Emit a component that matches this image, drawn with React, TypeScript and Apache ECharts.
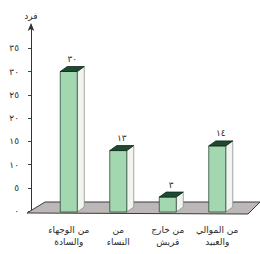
import React, { useEffect, useRef } from "react";
import * as echarts from "echarts";

const categories = [
  "من الوجهاء\nوالسادة",
  "من\nالنساء",
  "من خارج\nقريش",
  "من الموالي\nوالعبيد",
];
const values = [30, 13, 3, 14];
const yTicks = [0, 5, 10, 15, 20, 25, 30, 35];
const yTickLabels = ["٠", "٥", "١٠", "١٥", "٢٠", "٢٥", "٣٠", "٣٥"];
const valueLabels = ["٣٠", "١٣", "٣", "١٤"];
const yAxisName = "فرد";

const FONT = '"DejaVu Sans", sans-serif';

export default function App() {
  const ref = useRef<HTMLDivElement>(null);
  useEffect(() => {
    if (!ref.current) return;
    const chart = echarts.init(ref.current, null, { renderer: "svg" });
    const option: any = {
      animation: false,
      backgroundColor: "#ffffff",
      grid: { left: 44, right: 18, top: 25, bottom: 43 },
      xAxis: {
        type: "category",
        data: categories,
        axisLine: { show: false },
        axisTick: { show: false },
        axisLabel: {
          interval: 0,
          margin: 13,
          fontSize: 9,
          lineHeight: 12,
          color: "#2a2a2a",
          fontFamily: FONT,
        },
      },
      yAxis: {
        type: "value",
        min: 0,
        max: 40,
        interval: 5,
        offset: 13,
        name: yAxisName,
        nameLocation: "end",
        nameGap: 5,
        nameTextStyle: { fontSize: 9, color: "#2a2a2a", fontFamily: FONT, align: "center" },
        splitLine: { show: false },
        axisLine: {
          show: true,
          lineStyle: { color: "#333", width: 1 },
          symbol: ["none", "arrow"],
          symbolSize: [5, 8],
          symbolOffset: [0, 2],
        },
        axisTick: {
          show: true,
          length: 3,
          lineStyle: { color: "#444" },
          customValues: yTicks,
        },
        axisLabel: {
          margin: 12,
          fontSize: 9,
          color: "#2a2a2a",
          fontFamily: FONT,
          customValues: yTicks,
          formatter: (v: number) => {
            const i = yTicks.indexOf(v);
            return i >= 0 ? yTickLabels[i] : "";
          },
        },
      },
      series: [
        {
          type: "custom",
          clip: false,
          z: 1,
          data: [[0, 0]],
          renderItem: (params: any, api: any) => {
            const cs = params.coordSys;
            const y0 = api.coord([0, 0])[1];
            const pts = [
              [cs.x - 17, y0 + 2],
              [cs.x + cs.width + 6, y0 + 3],
              [cs.x + cs.width + 18, y0 - 9],
              [cs.x + 1, y0 - 9],
            ];
            return {
              type: "polygon",
              shape: { points: pts },
              style: { fill: "#bdb8b8", stroke: "#3a3a3a", lineWidth: 1 },
            };
          },
        },
        {
          type: "custom",
          clip: false,
          z: 2,
          data: values.map((v, i) => [i, v]),
          renderItem: (params: any, api: any) => {
            const idx = api.value(0);
            const v = api.value(1);
            const top = api.coord([idx, v]);
            const base = api.coord([idx, 0]);
            const w = 17;
            const dx = 7;
            const dy = 5;
            const xl = top[0] - w / 2;
            const xr = top[0] + w / 2;
            const yt = top[1];
            const yb = base[1] + 1;
            return {
              type: "group",
              children: [
                {
                  type: "polygon",
                  shape: { points: [[xr, yt], [xr + dx, yt - dy], [xr + dx, yb - dy], [xr, yb]] },
                  style: { fill: "#f2f4f0", stroke: "#8b918b", lineWidth: 0.8 },
                },
                {
                  type: "rect",
                  shape: { x: xl, y: yt, width: w, height: yb - yt },
                  style: { fill: "#a3d7b0", stroke: "#2e4a37", lineWidth: 0.8 },
                },
                {
                  type: "polygon",
                  shape: { points: [[xl, yt], [xr, yt], [xr + dx, yt - dy], [xl + dx, yt - dy]] },
                  style: { fill: "#1d4a30", stroke: "#10281a", lineWidth: 0.8 },
                },
                {
                  type: "text",
                  style: {
                    text: valueLabels[params.dataIndex],
                    x: top[0] + dx / 2,
                    y: yt - dy - 3,
                    align: "center",
                    verticalAlign: "bottom",
                    fill: "#2a2a2a",
                    font: `9px ${FONT}`,
                  },
                },
              ],
            };
          },
        },
      ],
    };
    chart.setOption(option);
    return () => chart.dispose();
  }, []);
  return (
    <div
      ref={ref}
      style={{ position: "fixed", left: 0, top: 0, width: 260, height: 254, background: "#fff" }}
    />
  );
}
